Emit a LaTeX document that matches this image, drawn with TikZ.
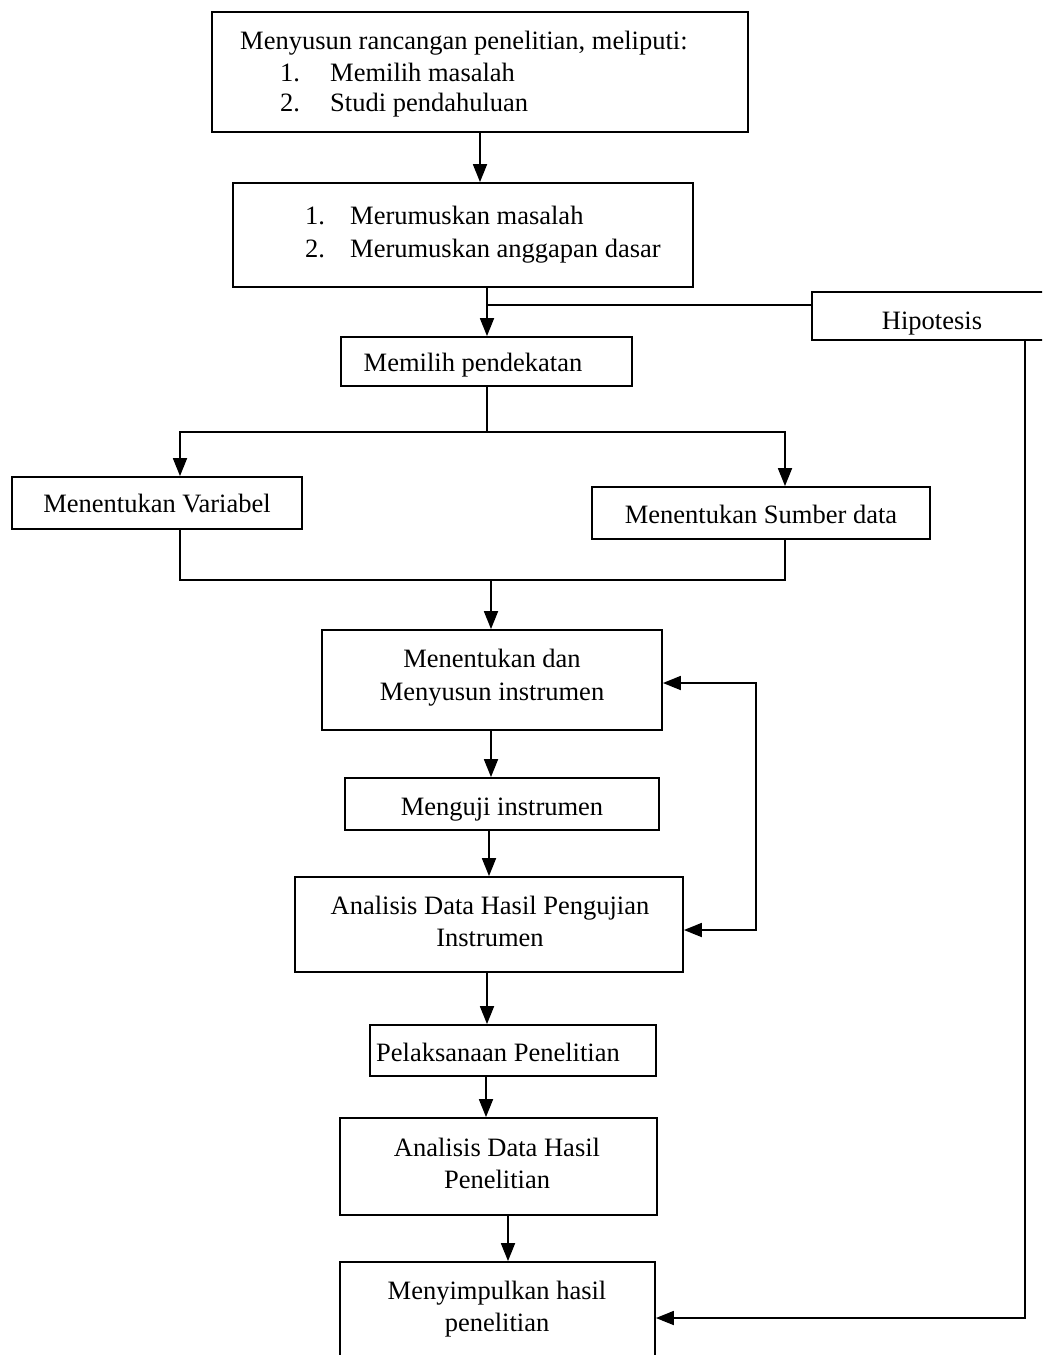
\documentclass[tikz,border=0pt]{standalone}
\usepackage{fontspec}
\setmainfont{Liberation Serif}
\usetikzlibrary{arrows.meta}
\tikzset{
  box/.style={draw, line width=1.8pt, rectangle, inner sep=0pt},
  txt/.style={font=\fontsize{26.5}{32}\selectfont, inner sep=0pt, anchor=base},
  txtl/.style={txt, anchor=base west},
  ln/.style={line width=1.8pt},
  arr/.style={ln, -{Triangle[length=18pt,width=14pt]}},
  arrb/.style={ln, {Triangle[length=18pt,width=14pt]}-{Triangle[length=18pt,width=14pt]}}
}
\begin{document}
\begin{tikzpicture}[x=1pt,y=-1pt]
\clip (0,0) rectangle (1042,1355);
\fill[white] (0,0) rectangle (1042,1355);
% boxes
\node[box, minimum width=536, minimum height=120] (b1) at (480,72) {};
\node[box, minimum width=460, minimum height=104] (b2) at (463,235) {};
\node[box, minimum width=248, minimum height=48] (hyp) at (936,316) {};
\node[box, minimum width=291, minimum height=49] (b3) at (486.5,361.5) {};
\node[box, minimum width=290, minimum height=52] (b4) at (157,503) {};
\node[box, minimum width=338, minimum height=52] (b5) at (761,513) {};
\node[box, minimum width=340, minimum height=100] (b6) at (492,680) {};
\node[box, minimum width=314, minimum height=52] (b7) at (502,804) {};
\node[box, minimum width=388, minimum height=95] (b8) at (489,924.5) {};
\node[box, minimum width=286, minimum height=51] (b9) at (513,1050.5) {};
\node[box, minimum width=317, minimum height=97] (b10) at (498.5,1166.5) {};
\node[box, minimum width=315, minimum height=138] (b11) at (497.5,1331) {};
% texts
\node[txtl] (t1a) at (240,49) {Menyusun rancangan penelitian, meliputi:};
\node[txtl] (t1b) at (280,81) {1.};
\node[txtl] (t1c) at (330,81) {Memilih masalah};
\node[txtl] (t1d) at (280,111) {2.};
\node[txtl] (t1e) at (330,111) {Studi pendahuluan};
\node[txtl] (t2a) at (305,224) {1.};
\node[txtl] (t2b) at (350,224) {Merumuskan masalah};
\node[txtl] (t2c) at (305,257) {2.};
\node[txtl] (t2d) at (350,257) {Merumuskan anggapan dasar};
\node[txt] (th) at (932,329) {Hipotesis};
\node[txt] (t3) at (473,371) {Memilih pendekatan};
\node[txt] (t4) at (157,512) {Menentukan Variabel};
\node[txt] (t5) at (761,523) {Menentukan Sumber data};
\node[txt] (t6a) at (492,667) {Menentukan dan};
\node[txt] (t6b) at (492,700) {Menyusun instrumen};
\node[txt] (t7) at (502,815) {Menguji instrumen};
\node[txt] (t8a) at (490,914) {Analisis Data Hasil Pengujian};
\node[txt] (t8b) at (490,946) {Instrumen};
\node[txt] (t9) at (498,1061) {Pelaksanaan Penelitian};
\node[txt] (t10a) at (497,1156) {Analisis Data Hasil};
\node[txt] (t10b) at (497,1188) {Penelitian};
\node[txt] (t11a) at (497,1299) {Menyimpulkan hasil};
\node[txt] (t11b) at (497,1331) {penelitian};
% junction coordinates
\coordinate (j1) at (487,305);
\coordinate (s) at (487,432);
\coordinate (sL) at (180,432);
\coordinate (sR) at (785,432);
\coordinate (m) at (491,580);
\coordinate (mL) at (180,580);
\coordinate (mR) at (785,580);
\coordinate (j8) at (487,0);
\coordinate (j9) at (486,0);
\coordinate (j10) at (508,0);
\coordinate (l1) at (756,683);
\coordinate (l2) at (756,930);
\coordinate (h1) at (1025,1318);
% connectors
\draw[arr] (b1.south) -- (b1.south |- b2.north);
\draw[arr] (b2.south -| j1) -- (b3.north -| j1);
\draw[ln] (j1) -- (j1 -| hyp.west);
\draw[ln] (b3.south -| s) -- (s);
\draw[arr] (s) -- (sL) -- (sL |- b4.north);
\draw[arr] (s) -- (sR) -- (sR |- b5.north);
\draw[ln] (mL |- b4.south) -- (mL) -- (mR) -- (mR |- b5.south);
\draw[arr] (m) -- (m |- b6.north);
\draw[arr] (b6.south -| m) -- (b7.north -| m);
\draw[arr] (b7.south -| b8.north) -- (b8.north);
\draw[arr] (b8.south -| j8) -- (b9.north -| j8);
\draw[arr] (b9.south -| j9) -- (b10.north -| j9);
\draw[arr] (b10.south -| j10) -- (b11.north -| j10);
\draw[arrb] (l1 -| b6.east) -- (l1) -- (l2) -- (l2 -| b8.east);
\draw[arr] (hyp.south -| h1) -- (h1) -- (h1 -| b11.east);
\end{tikzpicture}
\end{document}
